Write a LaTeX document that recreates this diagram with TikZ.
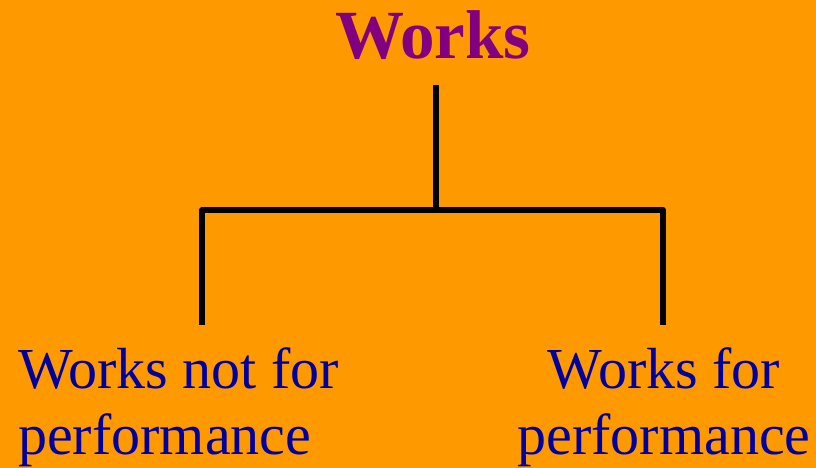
\documentclass[tikz,border=0pt]{standalone}
\usepackage{fontspec}
\setmainfont{Liberation Serif}
\definecolor{bgorange}{HTML}{FF9900}
\definecolor{titlepurple}{HTML}{800080}
\definecolor{leafblue}{HTML}{0000A0}
\begin{document}
\begin{tikzpicture}[x=1pt,y=1pt,
  title/.style={inner sep=0pt,text=titlepurple,font=\fontsize{69}{80}\selectfont\bfseries},
  leaf/.style={inner sep=0pt,text=leafblue,font=\fontsize{58}{66}\selectfont},
  branch/.style={line width=6pt,line join=round,black}]
  % background and bounds
  \fill[bgorange] (0,0) rectangle (816,468);
  \useasboundingbox (0,0) rectangle (816,468);
  % labels (base anchor sits on the last line)
  \node[title,anchor=base] (root) at (433,409) {Works};
  \node[leaf,anchor=base west,align=left] (left) at (18,13) {Works not for\\performance};
  \node[leaf,anchor=base,align=center] (right) at (664,13) {Works for\\performance};
  % tree connector
  \coordinate (top) at (436,383);
  \coordinate (mid) at (436,258);
  \coordinate (lb) at (202,143);
  \coordinate (rb) at (663,143);
  \draw[branch] (top) -- (mid);
  \draw[branch] (lb) |- (mid) -| (rb);
\end{tikzpicture}
\end{document}
